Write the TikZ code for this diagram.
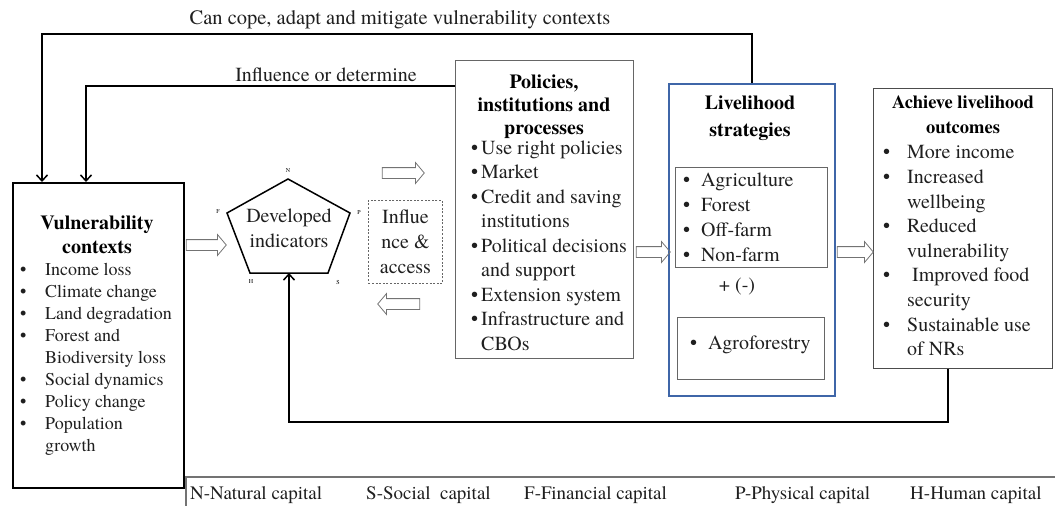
\documentclass[tikz,border=0pt]{standalone}
\usepackage{fontspec}
\IfFontExistsTF{texgyretermes-regular.otf}
	{\setmainfont{texgyretermes}[Extension=.otf, UprightFont=*-regular, BoldFont=*-bold, ItalicFont=*-italic]}
	{\setmainfont{Liberation Serif}}
\usetikzlibrary{shapes.arrows,arrows.meta}
\def\bul#1{\makebox[#1][l]{\textbullet}}
\def\cnt#1{\hspace*{#1}}
\definecolor{lhblue}{HTML}{3F66A8}

\tikzset{
	box/.style={draw=black!60, line width=1.1pt, inner sep=0pt, anchor=north west},
	txt/.style={inner sep=0pt, anchor=north west, align=left, text=black!88},
	ttl/.style={inner sep=0pt, anchor=north, align=center, font=\bfseries\fontsize{20}{24.5}\selectfont},
	loopline/.style={line width=2.6pt, -{Straight Barb[length=6pt,width=11pt,line width=1.5pt]}},
	harrow/.style={single arrow, draw=black!55, line width=0.8pt, inner xsep=0pt, inner ysep=5pt,
		single arrow head extend=5pt, single arrow tip angle=100, minimum height=40pt},
}

\begin{document}
\begin{tikzpicture}[x=1pt,y=-1pt]
	%%%%% START %%%%%
	\useasboundingbox (0,0) rectangle (1055,506);
	
	% main boxes
	\node[box, draw=black, line width=2.4pt, minimum width=171pt, minimum height=305pt] (vul) at (12,182) {};
	\node[box, minimum width=178pt, minimum height=298pt] (pol) at (455,60) {};
	\node[box, draw=lhblue, line width=1.8pt, minimum width=166pt, minimum height=312pt] (liv) at (668,83) {};
	\node[box, draw=black!70, minimum width=179pt, minimum height=280pt] (out) at (873,88) {};
	\node[box, line width=1pt, minimum width=152pt, minimum height=100pt] (livA) at (675,167) {};
	\node[box, line width=1pt, minimum width=147pt, minimum height=62pt] (livB) at (677,317) {};
	\node[box, dashed, dash pattern=on 2pt off 1.6pt, line width=0.9pt, minimum width=74pt, minimum height=83pt] (inf) at (368,200) {};
	
	% vulnerability contexts
	\node[ttl] (vulT) at (97,215.5) {Vulnerability\\contexts};
	\node[txt, font=\fontsize{18}{22}\selectfont] (vulL) at (20,263) {\bul{25pt}Income loss\\\bul{25pt}Climate change\\\bul{25pt}Land degradation\\\bul{25pt}Forest and\\\cnt{25pt}Biodiversity loss\\\bul{25pt}Social dynamics\\\bul{25pt}Policy change\\\bul{25pt}Population\\\cnt{25pt}growth};
	
	% developed indicators
	\coordinate (pN) at (288,179);
	\coordinate (pP) at (350,213);
	\coordinate (pS) at (328,273);
	\coordinate (pH) at (250,273);
	\coordinate (pF) at (227,213);
	\draw[line width=1.5pt] (pN) -- (pP) -- (pS) -- (pH) -- (pF) -- cycle;
	\node[txt, anchor=center, align=center, font=\fontsize{20}{25}\selectfont] (dev) at (289,228) {Developed\\indicators};
	\coordinate (pB) at (pH -| dev);
	\node[font=\fontsize{6}{6}\selectfont, inner sep=0pt] (lN) at (288,171) {N};
	\node[font=\fontsize{6}{6}\selectfont, inner sep=0pt] (lP) at (359,213) {P};
	\node[font=\fontsize{6}{6}\selectfont, inner sep=0pt] (lS) at (338,283) {S};
	\node[font=\fontsize{6}{6}\selectfont, inner sep=0pt] (lH) at (251,282) {H};
	\node[font=\fontsize{6}{6}\selectfont, inner sep=0pt] (lF) at (218,212) {F};
	
	% influence and access
	\node[txt, anchor=center, align=center, font=\fontsize{20}{25}\selectfont] (infT) at (inf.center) {Influe\\nce \&\\access};
	
	% policies, institutions and processes
	\node[ttl, font=\bfseries\fontsize{20}{23}\selectfont] (polT) at (544,74.5) {Policies,\\institutions and\\processes};
	\node[txt, font=\fontsize{20}{24.5}\selectfont] (polL) at (471,140.5) {\bul{10pt}Use right policies\\\bul{10pt}Market\\\bul{10pt}Credit and saving\\\cnt{10pt}institutions\\\bul{10pt}Political decisions\\\cnt{10pt}and support\\\bul{10pt}Extension system\\\bul{10pt}Infrastructure and\\\cnt{10pt}CBOs};
	
	% livelihood strategies
	\node[ttl, font=\bfseries\fontsize{20}{27}\selectfont] (livT) at (750,95.5) {Livelihood\\strategies};
	\node[txt, font=\fontsize{20}{25}\selectfont] (livL) at (683,172.5) {\bul{18pt}Agriculture\\\bul{18pt}Forest\\\bul{18pt}Off-farm\\\bul{18pt}Non-farm};
	\node[txt, anchor=center, font=\fontsize{20}{24}\selectfont] (livP) at (737,287) {+ (-)};
	\node[txt, font=\fontsize{20}{24}\selectfont] (livG) at (690,335.5) {\bul{18pt}Agroforestry};
	
	% livelihood outcomes
	\node[ttl, font=\bfseries\fontsize{18.5}{25}\selectfont] (outT) at (963,95.5) {Achieve livelihood\\outcomes};
	\node[txt, font=\fontsize{20}{24.6}\selectfont] (outL) at (883,145.5) {\bul{24pt}More income\\\bul{24pt}Increased\\\cnt{24pt}wellbeing\\\bul{24pt}Reduced\\\cnt{24pt}vulnerability\\\bul{24pt}\ Improved food\\\cnt{24pt}security\\\bul{24pt}Sustainable use\\\cnt{24pt}of NRs};
	
	% hollow arrows
	\node[harrow] (a1) at (204,245) {};
	\node[harrow, minimum height=34pt] (a2) at (651,252) {};
	\node[harrow, minimum height=36pt] (a3) at (853,252) {};
	\node[harrow, minimum height=42pt] (a4) at (401,173) {};
	\node[harrow, minimum height=42pt, shape border rotate=180] (a5) at (401,304) {};
	
	% feedback loops
	\coordinate (cTop) at (42,34);
	\coordinate (cMid) at (86,86);
	\coordinate (cBot) at (948,422);
	\draw[loopline] (liv.north) |- (cTop) -- (cTop |- vul.north);
	\draw[loopline] (pol.west |- cMid) -- (cMid) -- (cMid |- vul.north);
	\draw[loopline] (cBot |- out.south) -- (cBot) -| (pB);
	\node[font=\fontsize{20.5}{24}\selectfont, text=black!88] (capT) at (400,20) {Can cope, adapt and mitigate vulnerability contexts};
	\node[font=\fontsize{20}{24}\selectfont, text=black!88] (capM) at (326,75) {Influence or determine};
	
	% legend
	\draw[line width=1.2pt, black!55] (186,506) -- (186,477) -- (1055,477);
	\node[txt, anchor=west, font=\fontsize{19}{22}\selectfont] (lgN) at (190,495) {N-Natural capital};
	\node[txt, anchor=west, font=\fontsize{19}{22}\selectfont] (lgS) at (366,495) {S-Social\ \ capital};
	\node[txt, anchor=west, font=\fontsize{19}{22}\selectfont] (lgF) at (524,495) {F-Financial capital};
	\node[txt, anchor=west, font=\fontsize{19}{22}\selectfont] (lgP) at (735,495) {P-Physical capital};
	\node[txt, anchor=west, font=\fontsize{19}{22}\selectfont] (lgH) at (910,495) {H-Human capital};
	
	%%%%% END %%%%%
\end{tikzpicture}
\end{document}
